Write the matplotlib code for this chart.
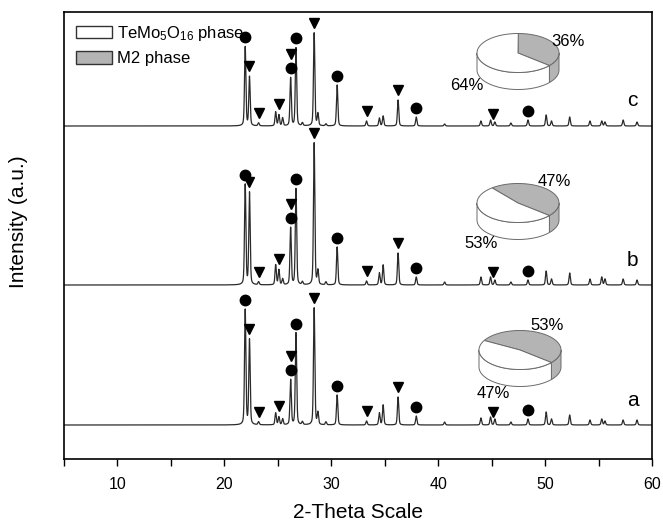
import numpy as np
import matplotlib.pyplot as plt
from matplotlib.patches import Patch, Polygon
from matplotlib.ticker import MultipleLocator

plt.rcParams['font.family'] = ['Liberation Sans', 'DejaVu Sans']

# peak positions (2-theta) and heights above baseline for each sample
peak_pos = [21.95, 22.35, 23.2, 24.8, 25.1, 25.45, 26.2, 26.7, 27.3, 28.4, 28.75, 29.5,
            30.55, 33.3, 34.5, 34.85, 36.25, 37.95, 40.6, 44.0, 44.9, 45.3, 46.8, 48.4,
            50.1, 50.6, 52.3, 54.2, 55.3, 55.6, 57.3, 58.6]
peaks_a = [115, 85, 3, 12, 8, 6, 45, 92, 3, 117, 12, 3, 30, 4, 12, 20, 28, 9, 3, 7, 8, 6,
           3, 6, 13, 6, 10, 5, 6, 4, 5, 5]
peaks_b = [100, 92, 3, 20, 15, 6, 57, 96, 3, 142, 14, 3, 38, 4, 12, 20, 32, 8, 3, 8, 8, 5,
           3, 5, 14, 6, 12, 6, 8, 6, 6, 5]
peaks_c = [79, 49, 3, 14, 11, 8, 48, 78, 3, 93, 12, 2, 41, 5, 8, 10, 26, 9, 2, 5, 6, 4,
           3, 6, 11, 5, 9, 5, 5, 4, 6, 4]
samples = ['a', 'b', 'c']
offsets = [34, 174, 333]

# phase markers
circle_pos = [21.95, 26.2, 26.7, 30.55, 37.95, 48.4]     # TeMo5O16
tri_pos = [22.35, 23.2, 25.1, 28.4, 33.3, 36.25, 45.1]    # M2
tri_stacked = [26.2]

# phase fractions (%)
temo_pct = [47, 53, 64]
m2_pct = [53, 47, 36]


def profile(x, pos, h, w=0.15):
    d = (x - pos) / w
    return h * (0.65 * np.exp(-4 * np.log(2) * d ** 2) + 0.35 / (1 + 4 * d ** 2))


fig = plt.figure(figsize=(6.63, 5.26), dpi=100)
ax = fig.add_axes([64 / 663, 1 - 459 / 526, 588 / 663, 447 / 526])

x = np.arange(5, 60.001, 0.01)
for heights, off, name in zip([peaks_a, peaks_b, peaks_c], offsets, samples):
    y = np.full_like(x, float(off))
    for p, h in zip(peak_pos, heights):
        y += profile(x, p, h)
    ax.plot(x, y, color='#2a2a2a', lw=0.9)

    def top(p):
        return y[(x > p - 0.12) & (x < p + 0.12)].max()

    for p in circle_pos:
        ax.plot(p, top(p) + 9, 'o', color='k', ms=7.5)
    for p in tri_pos:
        ax.plot(p, top(p) + 10, 'v', color='k', ms=7.5)
    for p in tri_stacked:
        ax.plot(p, top(p) + 23, 'v', color='k', ms=7.5)
    ax.text(58.2, off + 25, name, fontsize=15, ha='center', va='center')

ax.set_xlim(5, 60)
ax.set_ylim(0, 447)
ax.set_yticks([])
ax.xaxis.set_major_locator(MultipleLocator(10))
ax.xaxis.set_minor_locator(MultipleLocator(5))
ax.tick_params(axis='x', which='both', direction='out', length=5, width=1,
               labelsize=11.5, pad=8)
for s in ax.spines.values():
    s.set_linewidth(1.2)

fig.text(358 / 663, 1 - 512 / 526, '2-Theta Scale', fontsize=15, ha='center', va='center')
fig.text(19 / 663, 1 - 222 / 526, 'Intensity (a.u.)', fontsize=15, rotation=90,
         ha='center', va='center')

gray = '#b4b4b4'
ax.legend(handles=[Patch(fc='white', ec='#333333'), Patch(fc=gray, ec='#333333')],
          labels=[r'$\mathregular{TeMo_5O_{16}}$ phase', 'M2 phase'],
          loc='upper left', frameon=False, fontsize=12, handlelength=2.2,
          handleheight=0.8, labelspacing=0.5, handletextpad=0.3, borderaxespad=0.3)

# 3D-looking pies drawn in figure pixel coords
ov = fig.add_axes([0, 0, 1, 1])
ov.set_xlim(0, 663)
ov.set_ylim(526, 0)
ov.axis('off')

pie_cy = [350, 203, 53]
pie_cx = [520, 518, 518]
gray_lab = [(27, -25), (36, -21), (50, -12)]
white_lab = [(-27, 44), (-37, 40), (-51, 33)]
rx, ry, depth = 41, 19.5, 17
edge = '#6a6a6a'

for i in range(3):
    cx, cy = pie_cx[i], pie_cy[i]
    a0 = -40.0
    a1 = a0 + m2_pct[i] * 3.6
    slices = [(a0, a1, gray), (a1, a0 + 360, 'white')]

    def pt(a):
        t = np.radians(a)
        return cx + rx * np.cos(t), cy - ry * np.sin(t)

    # side walls (front half only)
    for s0, s1, col in slices:
        for k in (-1, 0, 1):
            lo, hi = max(s0, 180 + 360 * k), min(s1, 360 + 360 * k)
            if hi <= lo:
                continue
            angs = np.linspace(lo, hi, 40)
            up = [pt(a) for a in angs]
            down = [(px, py + depth) for px, py in up[::-1]]
            ov.add_patch(Polygon(up + down, closed=True, fc=col, ec=edge, lw=0.7))
    # top faces
    for s0, s1, col in slices:
        angs = np.linspace(s0, s1, 80)
        verts = [(cx, cy)] + [pt(a) for a in angs]
        ov.add_patch(Polygon(verts, closed=True, fc=col, ec=edge, lw=0.7))

    gx, gy = gray_lab[i]
    wx, wy = white_lab[i]
    ov.text(cx + gx, cy + gy, f'{m2_pct[i]}%', fontsize=12, ha='center', va='center')
    ov.text(cx + wx, cy + wy, f'{temo_pct[i]}%', fontsize=12, ha='center', va='center')

fig.savefig('out.png', dpi=100)
